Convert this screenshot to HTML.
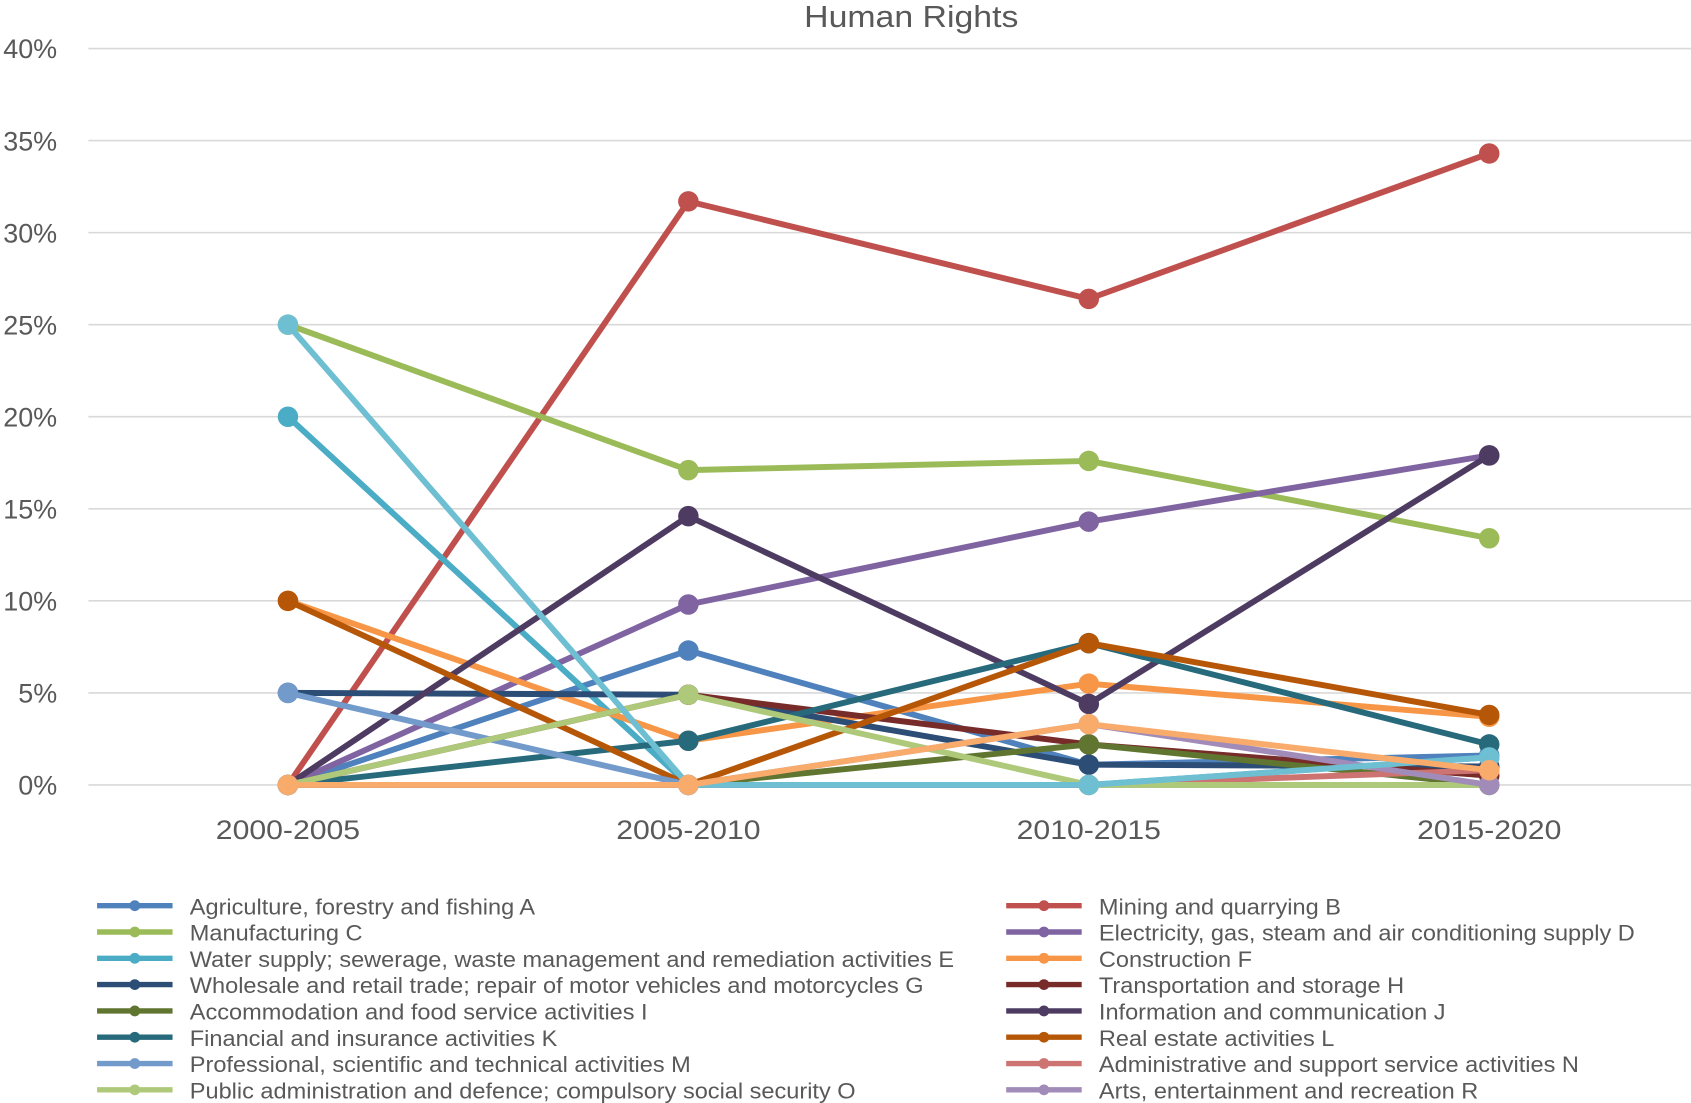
<!DOCTYPE html>
<html><head><meta charset="utf-8"><style>
html,body{margin:0;padding:0;background:#fff;}
svg{display:block;font-family:"Liberation Sans",sans-serif;}
</style></head><body>
<svg id="chart" width="1691" height="1103" viewBox="0 0 1568 1023" preserveAspectRatio="none" xmlns="http://www.w3.org/2000/svg">
<text id="title" x="845" y="25" text-anchor="middle" font-size="28" fill="#595959">Human Rights</text>
<g id="grid"></g><g id="series"></g><g id="legend"></g>
</svg>
<script>
const categories = ["2000-2005","2005-2010","2010-2015","2015-2020"];
const yTicks = [0,5,10,15,20,25,30,35,40];
const seriesNames = ["Agriculture, forestry and fishing A","Mining and quarrying B","Manufacturing C","Electricity, gas, steam and air conditioning supply D","Water supply; sewerage, waste management and remediation activities E","Construction F","Wholesale and retail trade; repair of motor vehicles and motorcycles G","Transportation and storage H","Accommodation and food service activities I","Information and communication J","Financial and insurance activities K","Real estate activities L","Professional, scientific and technical activities M","Administrative and support service activities N","Public administration and defence; compulsory social security O","Arts, entertainment and recreation R","Human health Q","Other services S"];
const seriesColors = ["#4F81BD","#C0504D","#9BBB59","#8064A2","#4BACC6","#F79646","#2C4D75","#772C2A","#5F7530","#4D3B62","#276A7C","#B65708","#729ACA","#CD7371","#AFC97A","#A18BB8","#6FBFD3","#F9AB6B"];
const vA = [0,7.3,1.1,1.6];
const vB = [0,31.7,26.4,34.3];
const vC = [25,17.1,17.6,13.4];
const vD = [0,9.8,14.3,17.9];
const vE = [20,0,0,1.5];
const vF = [10,2.4,5.5,3.7];
const vG = [5,4.9,1.1,1.0];
const vH = [0,4.9,2.2,0.5];
const vI = [0,0,2.2,0];
const vJ = [0,14.6,4.4,17.9];
const vK = [0,2.4,7.7,2.2];
const vL = [10,0,7.7,3.8];
const vM = [5,0,0,0];
const vN = [0,0,0,0.8];
const vO = [0,4.9,0,0];
const vR = [0,0,3.3,0];
const vQ = [25,0,0,1.5];
const vS = [0,0,3.3,0.8];
const seriesValues = [vA,vB,vC,vD,vE,vF,vG,vH,vI,vJ,vK,vL,vM,vN,vO,vR,vQ,vS];
const legendCount = 16;

const NS="http://www.w3.org/2000/svg";
function mk(tag,attrs,parent){const e=document.createElementNS(NS,tag);for(const k in attrs)e.setAttribute(k,attrs[k]);parent.appendChild(e);return e;}
function widen(t,f){const w=t.getComputedTextLength();t.setAttribute('textLength',w*f);t.setAttribute('lengthAdjust','spacingAndGlyphs');}
const y0=728, yPer=(728-45)/40;
function yScale(v){return y0-v*yPer;}
function xScale(i){return 267+i*371.3;}
widen(document.getElementById('title'),1.12);
const grid=document.getElementById('grid');
yTicks.forEach(t=>{
  const l=mk('line',{x1:82,x2:1568,y1:yScale(t),y2:yScale(t),stroke:'#d9d9d9','stroke-width':1.5},grid);
  
  
  const tx=mk('text',{x:53,y:yScale(t)+9,'text-anchor':'end','font-size':25,fill:'#595959'},grid);
  tx.textContent=t+'%';
  
  
});
categories.forEach((c,i)=>{
  const tx=mk('text',{x:xScale(i),y:778,'text-anchor':'middle','font-size':25,fill:'#595959'},grid);
  tx.textContent=c;
  
  
  widen(tx,1.12);
});
const sg=document.getElementById('series');
seriesValues.forEach((vals,s)=>{
  const g=mk('g',{},sg);
  
  
  const pts=vals.map((v,i)=>xScale(i)+','+yScale(v)).join(' ');
  const pl=mk('polyline',{points:pts,fill:'none',stroke:seriesColors[s],'stroke-width':5.5,'stroke-linejoin':'round'},g);
  
  
  vals.forEach((v,i)=>{
    const c=mk('circle',{cx:xScale(i),cy:yScale(v),r:9.5,fill:seriesColors[s]},g);
    
    
  });
});
const lg=document.getElementById('legend');
for(let s=0;s<legendCount;s++){
  const col=s%2, row=Math.floor(s/2);
  const x=col?933:90, y=840+row*24.4;
  const g=mk('g',{},lg);
  
  
  mk('line',{x1:x,x2:x+70,y1:y,y2:y,stroke:seriesColors[s],'stroke-width':5},g);
  mk('circle',{cx:x+35,cy:y,r:5,fill:seriesColors[s]},g);
  const t=mk('text',{x:x+86,y:y+8,'font-size':21,fill:'#595959'},g);
  t.textContent=seriesNames[s];
  widen(t,1.04);
}
</script>
</body></html>
